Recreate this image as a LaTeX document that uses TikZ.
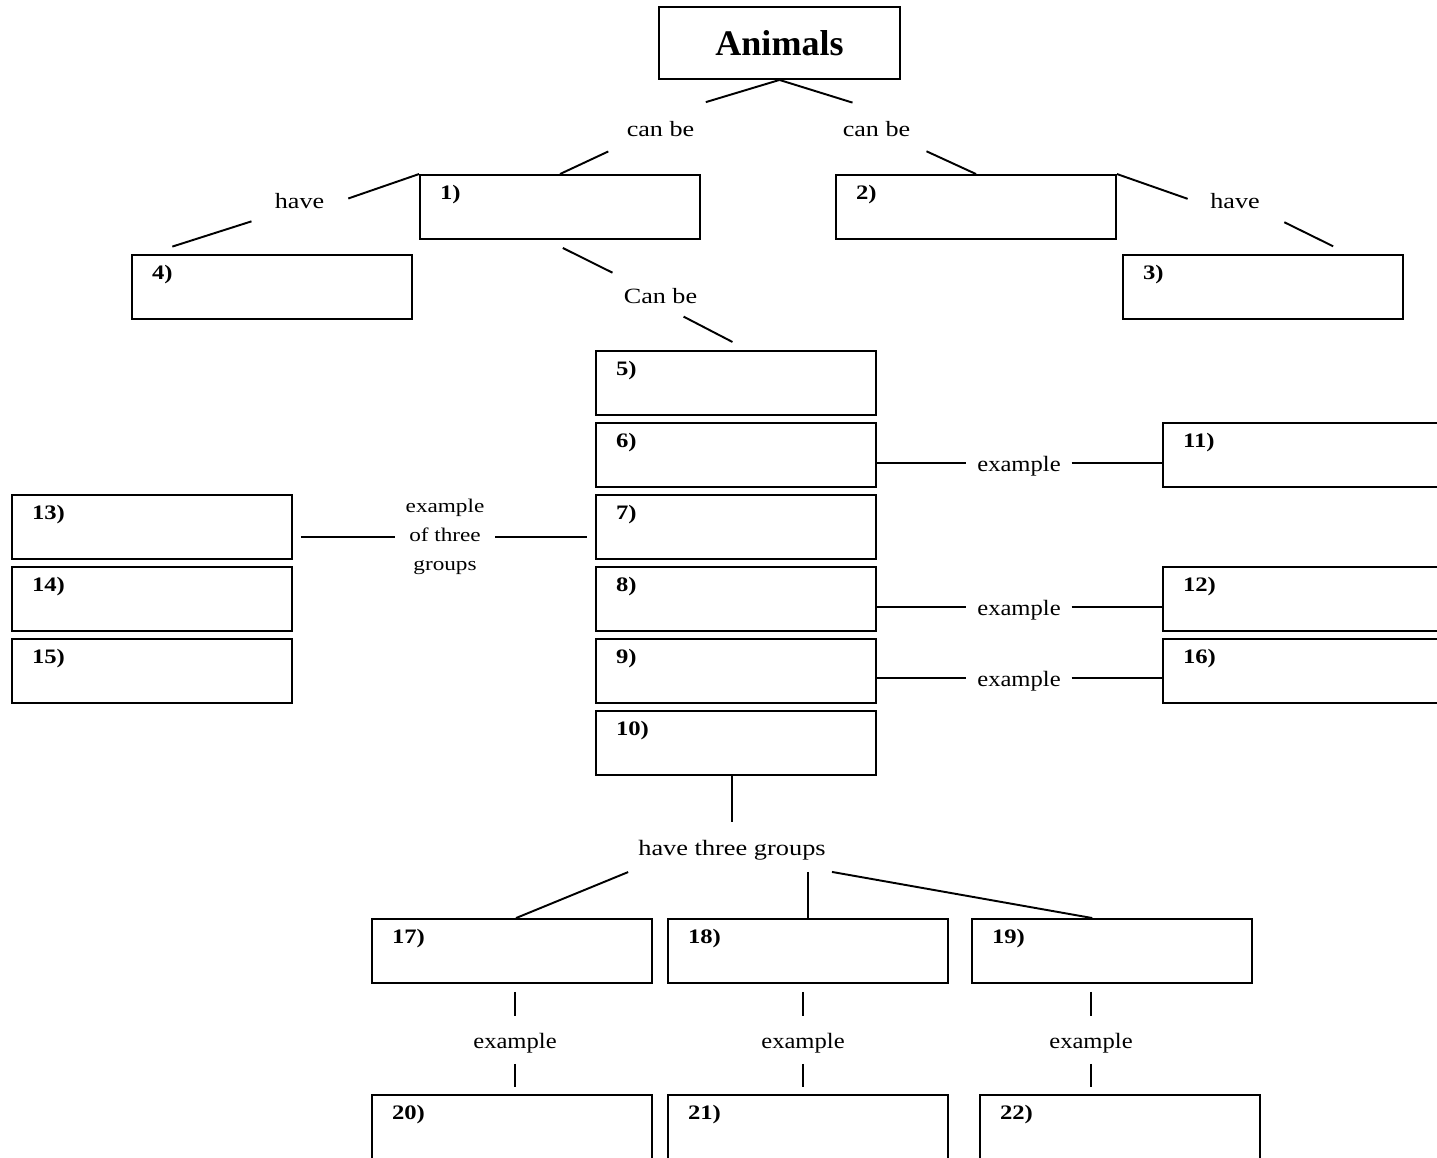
\documentclass[tikz,border=0pt]{standalone}
\usepackage{fontspec}
\setmainfont{Liberation Serif}
\newfontfamily\widefont{Liberation Serif}[FakeStretch=1.2]
\newfontfamily\egfont{Liberation Serif}[FakeStretch=1.12]

\begin{document}
\begin{tikzpicture}[x=0.02cm,y=-0.02cm,line width=1.1pt,
  blank/.style={draw,minimum width=56mm,minimum height=12.8mm,inner sep=0pt},
  num/.style={anchor=north west,inner sep=0pt,shift={(20,10)},font=\widefont\fontsize{11.7}{14}\selectfont\bfseries},
  link/.style={inner sep=0pt,font=\widefont\fontsize{12.4}{15}\selectfont},
  eg/.style={inner sep=2mm,font=\egfont\fontsize{12.5}{15}\selectfont},
  egrow/.style={eg,text height=12.5pt,text depth=2.3pt}]
\useasboundingbox (0,0) rectangle (1437,1158);
\clip (0,0) rectangle (1437,1158);
\node[draw,minimum width=48.2mm,minimum height=14.4mm,font=\fontsize{20.5}{24}\selectfont\bfseries](animals) at (779.5,43){Animals};
\node[link](canL) at (660.5,129.5){can be};
\node[link](canR) at (876.5,129.5){can be};
\node[blank,label={[num]north west:1)}](b1) at (560,207){};
\node[blank,label={[num]north west:2)}](b2) at (976,207){};
\node[link](haveL) at (299.5,201.5){have};
\node[link](haveR) at (1235,201){have};
\node[blank,label={[num]north west:4)}](b4) at (272,287){};
\node[blank,label={[num]north west:3)}](b3) at (1263,287){};
\node[link](canM) at (660.5,296){Can be};
\node[blank,label={[num]north west:5)}](b5) at (736,383){};
\node[blank,label={[num]north west:6)}](b6) at (736,455){};
\node[blank,label={[num]north west:7)}](b7) at (736,527){};
\node[blank,label={[num]north west:8)}](b8) at (736,599){};
\node[blank,label={[num]north west:9)}](b9) at (736,671){};
\node[blank,label={[num]north west:10)}](b10) at (736,743){};
\node[blank,label={[num]north west:11)}](b11) at (1303,455){};
\node[blank,label={[num]north west:12)}](b12) at (1303,599){};
\node[blank,label={[num]north west:16)}](b16) at (1303,671){};
\node[blank,label={[num]north west:13)}](b13) at (152,527){};
\node[blank,label={[num]north west:14)}](b14) at (152,599){};
\node[blank,label={[num]north west:15)}](b15) at (152,671){};
\node[egrow](ex6) at (1019,463){example};
\node[egrow](ex8) at (1019,607){example};
\node[egrow](ex9) at (1019,678){example};
\node[eg,align=center,font=\widefont\fontsize{11}{16.5}\selectfont](ex7) at (445,537){example\\of three\\groups};
\node[link,font=\widefont\fontsize{12.5}{15}\selectfont](htg) at (732,850.5){have three groups};
\node[blank,label={[num]north west:17)}](b17) at (512,951){};
\node[blank,label={[num]north west:18)}](b18) at (808,951){};
\node[blank,label={[num]north west:19)}](b19) at (1112,951){};
\node[eg](exA) at (515,1043){example};
\node[eg](exB) at (803,1043){example};
\node[eg](exC) at (1091,1043){example};
\node[blank,label={[num]north west:20)}](b20) at (512,1127){};
\node[blank,label={[num]north west:21)}](b21) at (808,1127){};
\node[blank,label={[num]north west:22)}](b22) at (1120,1127){};
\draw[shorten >=13mm](animals.south)--(canL.153);
\draw[shorten >=12.3mm](animals.south)--(canR.north east);
\draw[shorten <=6.3mm](canL.200)--(b1.north);
\draw[shorten <=6.3mm](canR.338)--(b2.north);
\draw[shorten >=4.9mm](b1.north west)--(haveL.349);
\draw[shorten <=7.4mm,shorten >=4.9mm](haveL.214)--(b4.165);
\draw[shorten >=4.6mm](b2.north east)--(haveR.192);
\draw[shorten <=5.7mm,shorten >=3.5mm](haveR.340)--(b3.21);
\draw[shorten <=3.6mm,shorten >=6.6mm](b1.248)--(canM.155);
\draw[shorten <=5.2mm,shorten >=3.5mm](canM.south)--(b5.70);
\draw(b6.east |- ex6)--(ex6)--(b11.west |- ex6);
\draw(b8.east |- ex8)--(ex8)--(b12.west |- ex8);
\draw(b9.east |- ex9)--(ex9)--(b16.west |- ex9);
\draw[shorten <=1.6mm](b13.east |- ex7)--(ex7);
\draw[shorten >=1.6mm](ex7)--(b7.west |- ex7);
\draw[shorten >=3.5mm](htg |- b10.south)--(htg);
\draw[shorten <=5.6mm](htg.188)--(b17.83);
\draw[shorten <=2.1mm](htg.south -| b18.north)--(b18.north);
\draw[shorten <=12mm](htg.345)--(b19.121);
\draw[shorten <=1.6mm,shorten >=1.2mm](exA |- b17.south)--(exA);
\draw[shorten >=1.4mm](exA)--(exA |- b20.north);
\draw[shorten <=1.6mm,shorten >=1.2mm](exB |- b18.south)--(exB);
\draw[shorten >=1.4mm](exB)--(exB |- b21.north);
\draw[shorten <=1.6mm,shorten >=1.2mm](exC |- b19.south)--(exC);
\draw[shorten >=1.4mm](exC)--(exC |- b22.north);
\end{tikzpicture}
\end{document}
